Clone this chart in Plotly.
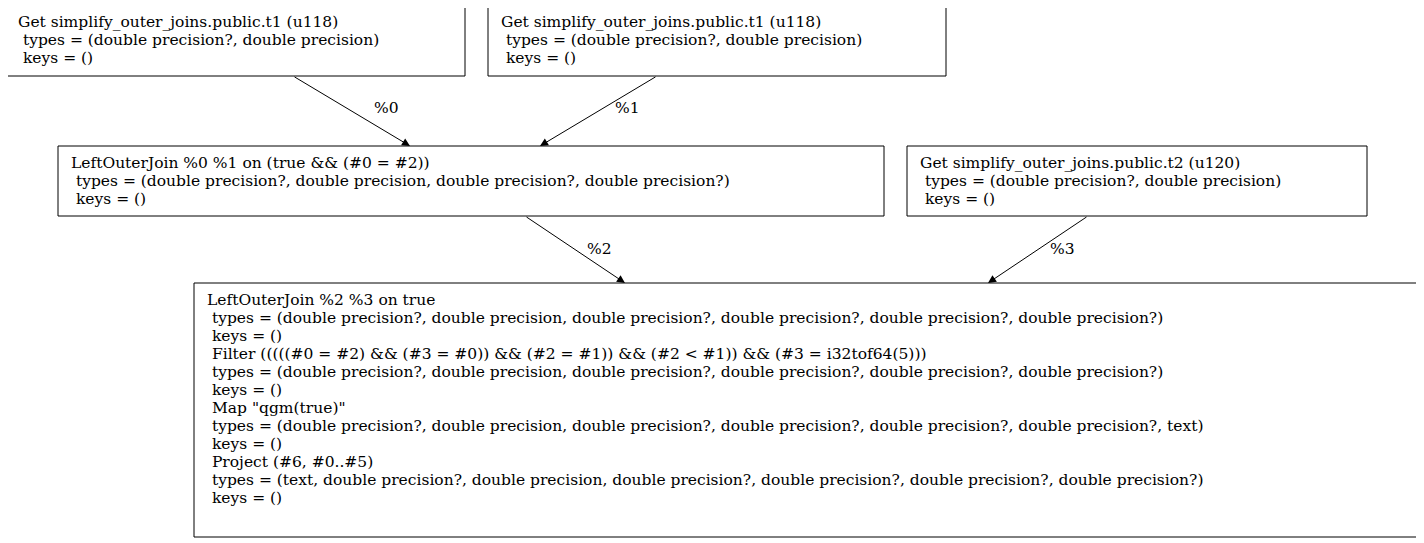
import plotly.graph_objects as go

# node labels (one entry per line)
node_ids = ["t1a", "t1b", "join1", "t2", "join2"]
node_lines = {
    "t1a": ["Get simplify_outer_joins.public.t1 (u118)",
            " types = (double precision?, double precision)",
            " keys = ()"],
    "t1b": ["Get simplify_outer_joins.public.t1 (u118)",
            " types = (double precision?, double precision)",
            " keys = ()"],
    "join1": ["LeftOuterJoin %0 %1 on (true && (#0 = #2))",
              " types = (double precision?, double precision, double precision?, double precision?)",
              " keys = ()"],
    "t2": ["Get simplify_outer_joins.public.t2 (u120)",
           " types = (double precision?, double precision)",
           " keys = ()"],
    "join2": ["LeftOuterJoin %2 %3 on true",
              " types = (double precision?, double precision, double precision?, double precision?, double precision?, double precision?)",
              " keys = ()",
              " Filter (((((#0 = #2) && (#3 = #0)) && (#2 = #1)) && (#2 < #1)) && (#3 = i32tof64(5)))",
              " types = (double precision?, double precision, double precision?, double precision?, double precision?, double precision?)",
              " keys = ()",
              " Map \"qgm(true)\"",
              " types = (double precision?, double precision, double precision?, double precision?, double precision?, double precision?, text)",
              " keys = ()",
              " Project (#6, #0..#5)",
              " types = (text, double precision?, double precision, double precision?, double precision?, double precision?, double precision?)",
              " keys = ()"],
}
edge_labels = ["%0", "%1", "%2", "%3"]

# layout in page pixel space: box (x0, y0, x1, y1)
boxes = {
    "t1a": (5, 5, 465, 76),
    "t1b": (488, 5, 946, 76),
    "join1": (58, 146, 884, 216),
    "t2": (907, 146, 1367, 216),
    "join2": (194, 283, 1418, 537),
}
edge_geom = [
    ((293, 76), (410, 146), (386, 108)),
    ((657, 76), (540, 146), (627, 108)),
    ((525, 216), (625, 283), (599, 249)),
    ((1088, 216), (988, 283), (1062, 249)),
]

font = dict(family="DejaVu Serif, serif", size=15.5, color="black")
line_h = 18
off = 8  # page body margin

fig = go.Figure()
shapes = []
annotations = []
for nid in node_ids:
    x0, y0, x1, y1 = boxes[nid]
    shapes.append(dict(type="rect", x0=x0, y0=y0, x1=x1, y1=y1,
                       line=dict(color="black", width=1), xref="x", yref="y"))
    for i, txt in enumerate(node_lines[nid]):
        annotations.append(dict(x=x0 + 11, y=y0 + 17 + i * line_h,
                                text=txt.replace(" ", "&nbsp;"), showarrow=False,
                                xanchor="left", yanchor="middle", font=font))

for (s, e, lp), lab in zip(edge_geom, edge_labels):
    annotations.append(dict(x=e[0], y=e[1], ax=s[0], ay=s[1], axref="x", ayref="y",
                            xref="x", yref="y", text="", showarrow=True,
                            arrowhead=2, arrowsize=1.6, arrowwidth=1, arrowcolor="black"))
    annotations.append(dict(x=lp[0], y=lp[1], text=lab, showarrow=False,
                            xanchor="center", yanchor="middle", font=font))

fig.update_layout(width=1424 - off, height=543 - off, margin=dict(l=0, r=0, t=0, b=0),
                  plot_bgcolor="white", paper_bgcolor="white",
                  shapes=shapes, annotations=annotations,
                  xaxis=dict(range=[off, 1424], visible=False, fixedrange=True),
                  yaxis=dict(range=[543, off], visible=False, fixedrange=True))
fig.write_html("out.html")
